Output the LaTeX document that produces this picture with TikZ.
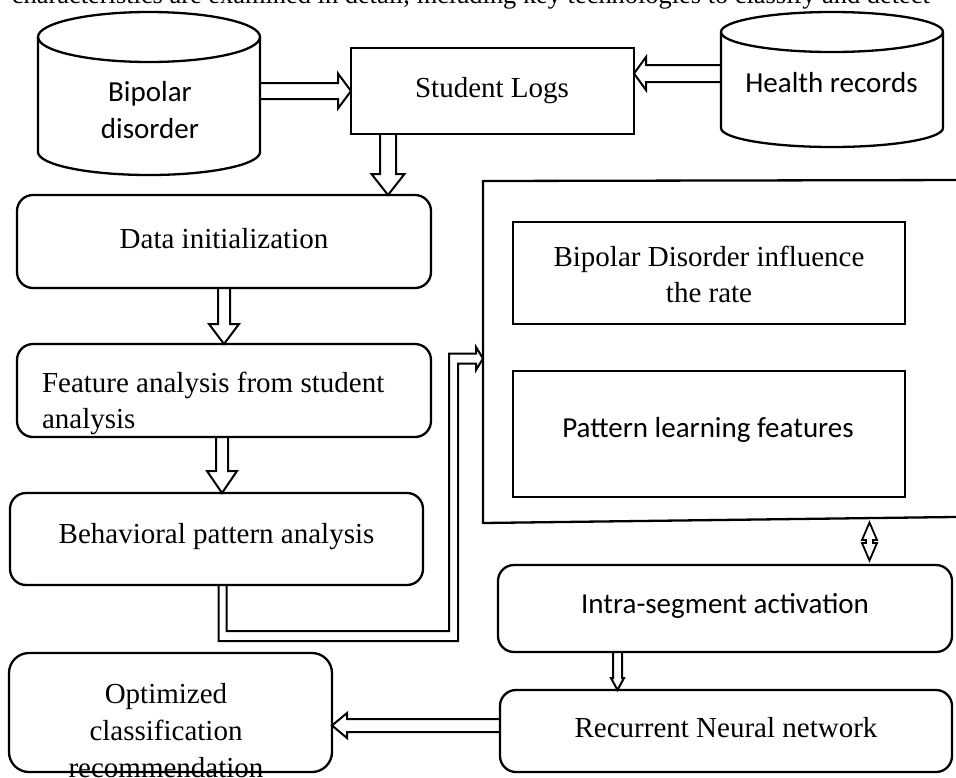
\documentclass[tikz,border=0pt]{standalone}
\usepackage{fontspec}
\setmainfont{Liberation Serif}
\newfontfamily\sansf{Carlito}
\usetikzlibrary{calc}
\tikzset{
  area/.style={draw=none, inner sep=0pt, outer sep=0pt},
  sqbox/.style={draw, line width=2.3pt, inner sep=0pt, outer sep=0pt},
  rbox/.style={draw, line width=2.3pt, rounded corners=16pt, inner sep=0pt, outer sep=0pt},
  cyl/.style={line width=2.3pt},
  frame/.style={line width=2.3pt},
  conn/.style={line width=2pt, line join=miter},
  txt/.style={anchor=base, inner sep=0pt, outer sep=0pt, font=\fontsize{29}{35}\selectfont},
  stxt/.style={anchor=base, inner sep=0pt, outer sep=0pt, font=\sansf\fontsize{29}{35}\selectfont},
  toptxt/.style={anchor=base west, inner sep=0pt, outer sep=0pt, font=\fontsize{26.4}{30}\selectfont}
}
% hollow block arrow: from, to, half shaft width, half head width, head length
\newcommand\blockarrow[5]{%
  \path ($(#2)!#5!(#1)$) coordinate (ba-h);
  \draw[conn] ($(#1)!#3!90:(#2)$) -- ($(ba-h)!#3!90:(#2)$) -- ($(ba-h)!#4!90:(#2)$) -- (#2)
    -- ($(ba-h)!#4!-90:(#2)$) -- ($(ba-h)!#3!-90:(#2)$) -- ($(#1)!#3!-90:(#2)$);
}
\begin{document}
\begin{tikzpicture}[x=1pt, y=-1pt]
\useasboundingbox (0,0) rectangle (956,777);
\fill[white] (0,0) rectangle (956,777);
\clip (0,0) rectangle (956,777);

% cut-off line of body text at the top
\node[toptxt] (toptext) at (12,3) {characteristics are examined in detail, including key technologies to classify and detect};

% ---------- nodes ----------
\node[area, minimum width=222pt, minimum height=115pt] (bip) at (149,94.5) {};
\node[sqbox, minimum width=283pt, minimum height=86pt] (sl) at (492.5,91) {};
\node[area, minimum width=222pt, minimum height=96pt] (hr) at (832,80) {};
\node[rbox, minimum width=414pt, minimum height=93pt] (di) at (224,241.5) {};
\node[rbox, minimum width=414pt, minimum height=93pt] (fa) at (224,390.5) {};
\node[rbox, minimum width=413pt, minimum height=92pt] (bp) at (216.5,539) {};
\node[sqbox, minimum width=392pt, minimum height=102pt] (b1) at (709,273) {};
\node[sqbox, minimum width=392pt, minimum height=126pt] (b2) at (709,434) {};
\node[rbox, minimum width=454pt, minimum height=87pt] (ia) at (725,608.5) {};
\node[rbox, minimum width=452pt, minimum height=82pt] (rnn) at (726,731) {};
\node[rbox, minimum width=323pt, minimum height=119pt, rounded corners=20pt] (opt) at (170.5,712.5) {};

% cylinders
\draw[cyl] (bip.north) ellipse [x radius=111pt, y radius=25pt];
\draw[cyl] (bip.north west) -- (bip.south west) arc [start angle=180, end angle=360, x radius=111pt, y radius=23pt] -- (bip.north east);
\draw[cyl] (hr.north) ellipse [x radius=111pt, y radius=20pt];
\draw[cyl] (hr.north west) -- (hr.south west) arc [start angle=180, end angle=360, x radius=111pt, y radius=19pt] -- (hr.north east);

% big open frame
\coordinate (ftl) at (483,181);
\coordinate (fbl) at (483,523);
\draw[frame] (970,180) -- (ftl) -- (fbl) -- (970,516.8);

% ---------- texts ----------
\node[stxt] (tbip1) at (150,101) {Bipolar};
\node[stxt] (tbip2) at (150,138) {disorder};
\node[txt] (tsl) at (492,97) {Student Logs};
\node[stxt] (thr) at (831.5,92) {Health records};
\node[txt] (tdi) at (224,248) {Data initialization};
\node[txt, anchor=base west] (tfa1) at (42,392) {Feature analysis from student};
\node[txt, anchor=base west] (tfa2) at (42,428) {analysis};
\node[txt] (tbp) at (216.5,543) {Behavioral pattern analysis};
\node[txt] (tb1a) at (709,266) {Bipolar Disorder influence};
\node[txt] (tb1b) at (709,302) {the rate};
\node[stxt] (tb2) at (708,437) {Pattern learning features};
\node[stxt] (tia) at (725,613) {Intra-segment activation};
\node[txt] (trnn) at (726,737) {Recurrent Neural network};
\node[txt] (topt1) at (166,703) {Optimized};
\node[txt] (topt2) at (166,740) {classification};
\node[txt] (topt3) at (166,777) {recommendation};

% ---------- connectors ----------
\coordinate (a1s) at (bip.east |- sl.west);
\blockarrow{a1s}{sl.west}{8pt}{17.5pt}{13pt}

\coordinate (a2s) at ($(hr.west)+(0,-6.5)$);
\coordinate (a2e) at (sl.east |- a2s);
\blockarrow{a2s}{a2e}{8.5pt}{16.5pt}{12pt}

\coordinate (a3s) at ($(sl.south west)+(37,0)$);
\coordinate (a3e) at (a3s |- di.north);
\blockarrow{a3s}{a3e}{8pt}{16.5pt}{21pt}

\blockarrow{di.south}{fa.north}{6pt}{15pt}{20pt}

\coordinate (a5e) at ($(bp.north)+(5.5,0)$);
\coordinate (a5s) at (a5e |- fa.south);
\blockarrow{a5s}{a5e}{6pt}{15pt}{22pt}

% elbow hollow connector into the frame
\coordinate (e0) at ($(bp.south)+(6,0)$);
\coordinate (bigin) at (ftl |- 0,358.5);
\draw[conn] ($(e0)+(-4,0)$) -- ($(e0)+(-4,56)$) -- (458,641) -- (458,363.5) -- (476,363.5) -- (476,370)
  -- (bigin) -- (476,347) -- (476,353.5) -- (449,353.5) -- (449,631) -- ($(e0)+(4,46)$) -- ($(e0)+(4,0)$);

% small double-headed hollow arrow between frame and intra-segment box
\coordinate (dc) at (869.5,541.5);
\draw[conn, line width=1.8pt] ($(dc)+(0,-19)$) -- ($(dc)+(7.5,-1.5)$) -- ($(dc)+(3.5,-1.5)$) -- ($(dc)+(3.5,1.5)$)
  -- ($(dc)+(7.5,1.5)$) -- ($(dc)+(0,19)$) -- ($(dc)+(-7.5,1.5)$) -- ($(dc)+(-3.5,1.5)$)
  -- ($(dc)+(-3.5,-1.5)$) -- ($(dc)+(-7.5,-1.5)$) -- cycle;

\coordinate (a6s) at (617.5,0 |- ia.south);
\coordinate (a6e) at (a6s |- rnn.north);
\blockarrow{a6s}{a6e}{4.5pt}{6.5pt}{12pt}

\coordinate (a7s) at ($(rnn.west)+(0,-5.5)$);
\coordinate (a7e) at (opt.east |- a7s);
\blockarrow{a7s}{a7e}{6.5pt}{12.5pt}{15pt}
\end{tikzpicture}
\end{document}
